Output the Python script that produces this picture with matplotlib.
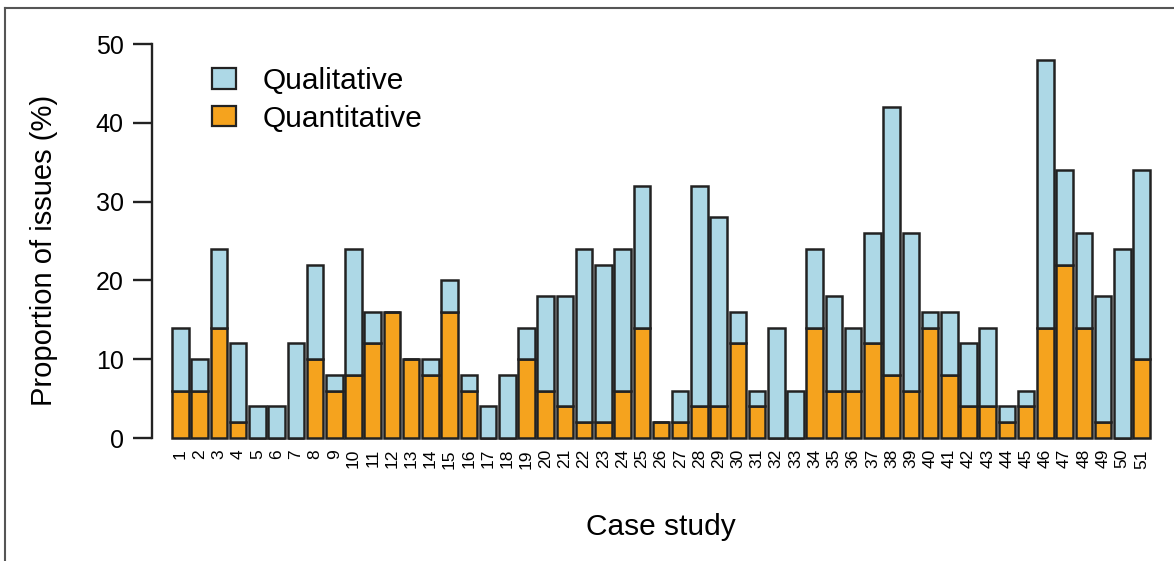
import matplotlib
matplotlib.use("Agg")
import matplotlib.pyplot as plt
from matplotlib.patches import Patch
from matplotlib.lines import Line2D
import numpy as np

plt.rcParams['font.family'] = ['Liberation Sans', 'DejaVu Sans']

case_study = list(range(1, 52))
total = [14, 10, 24, 12, 4, 4, 12, 22, 8, 24,
         16, 16, 10, 10, 20, 8, 4, 8, 14, 18,
         18, 24, 22, 24, 32, 2, 6, 32, 28, 16,
         6, 14, 6, 24, 18, 14, 26, 42, 26, 16,
         16, 12, 14, 4, 6, 48, 34, 26, 18, 24, 34]
quantitative = [6, 6, 14, 2, 0, 0, 0, 10, 6, 8,
                12, 16, 10, 8, 16, 6, 0, 0, 10, 6,
                4, 2, 2, 6, 14, 2, 2, 4, 4, 12,
                4, 0, 0, 14, 6, 6, 12, 8, 6, 14,
                8, 4, 4, 2, 4, 14, 22, 14, 2, 0, 10]
qualitative = [t - q for t, q in zip(total, quantitative)]
yticks = [0, 10, 20, 30, 40, 50]

W, H = 1174, 561
fig = plt.figure(figsize=(W / 100, H / 100), dpi=100)

ax_left, ax_right = 152, 1160
ax_top, ax_bottom = 44, 438
ax = fig.add_axes([ax_left / W, 1 - ax_bottom / H, (ax_right - ax_left) / W, (ax_bottom - ax_top) / H])

x = np.array(case_study)
edge = '#222222'
c_qual = '#ADD8E6'
c_quan = '#F5A31E'
bw = 0.86
ax.bar(x, quantitative, width=bw, color=c_quan, edgecolor=edge, linewidth=1.8, clip_on=False, zorder=2)
ax.bar(x, qualitative, bottom=quantitative, width=bw, color=c_qual, edgecolor=edge, linewidth=1.8, clip_on=False, zorder=2)

pitch = (1141.5 - 180.5) / 50.0
xmin = 1 - (180.5 - ax_left) / pitch
xmax = 51 + (ax_right - 1141.5) / pitch
ax.set_xlim(xmin, xmax)
ax.set_ylim(0, 50)

for s in ['top', 'right', 'bottom']:
    ax.spines[s].set_visible(False)
ax.spines['left'].set_linewidth(1.7)
ax.spines['left'].set_color('#222222')
ax.spines['left'].set_bounds(0, 50)

ax.set_yticks(yticks)
ax.set_yticklabels([str(v) for v in yticks], fontsize=18)
ax.tick_params(axis='y', length=13.5, width=1.7, pad=7, color='#222222')
ax.set_xticks(x)
ax.set_xticklabels([str(v) for v in case_study], rotation=90, fontsize=12.5)
ax.tick_params(axis='x', length=0, pad=8)

fig.text(44 / W, 1 - 250 / H, 'Proportion of issues (%)', rotation=90,
         ha='center', va='center', fontsize=21)
fig.text(661 / W, 1 - 535 / H, 'Case study', ha='center', va='baseline', fontsize=21.5)

handles = [Patch(facecolor=c_qual, edgecolor=edge, linewidth=1.6),
           Patch(facecolor=c_quan, edgecolor=edge, linewidth=1.6)]
leg = ax.legend(handles, ['Qualitative', 'Quantitative'], loc='upper left',
                bbox_to_anchor=((212 - ax_left) / (ax_right - ax_left), 1 - (67 - ax_top) / (ax_bottom - ax_top)),
                frameon=False, fontsize=21.5, handlelength=0.8, handleheight=0.66,
                handletextpad=0.9, labelspacing=0.32, borderpad=0, borderaxespad=0)

# outer frame lines (left and top)
fig.add_artist(Line2D([5 / W, 5 / W], [0, 1 - 8 / H], transform=fig.transFigure, color='#555555', linewidth=1.5))
fig.add_artist(Line2D([5 / W, 1], [1 - 8 / H, 1 - 8 / H], transform=fig.transFigure, color='#555555', linewidth=1.5))

fig.savefig('out.png', dpi=100)
